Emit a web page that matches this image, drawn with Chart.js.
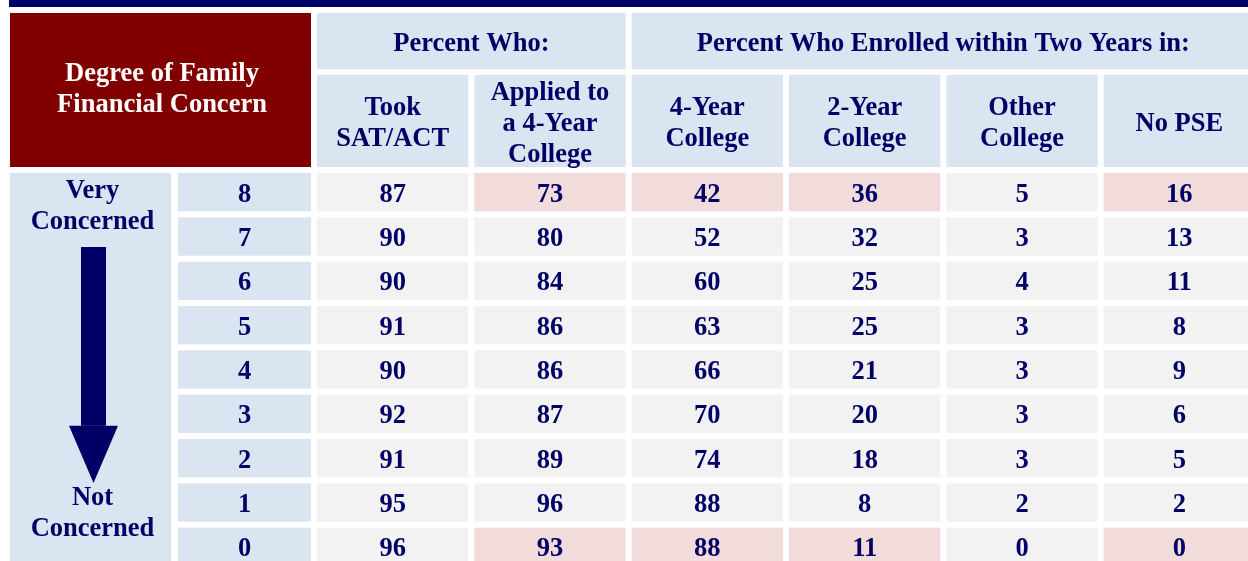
<!DOCTYPE html>
<html>
<head>
<meta charset="utf-8">
<script src="https://cdn.jsdelivr.net/npm/chart.js@4.4.1/dist/chart.umd.min.js"></script>
<style>
  html, body { margin: 0; padding: 0; background: #ffffff; overflow: hidden; width: 1248px; height: 561px; }
  canvas { display: block; }
</style>
</head>
<body>
<canvas id="c" width="1258" height="569"></canvas>
<script>
// ---- data ----
const columns = ['Took SAT/ACT', 'Applied to a 4-Year College', '4-Year College', '2-Year College', 'Other College', 'No PSE'];
const columnHeaderLines = [['Took', 'SAT/ACT'], ['Applied to', 'a 4-Year', 'College'], ['4-Year', 'College'], ['2-Year', 'College'], ['Other', 'College'], ['No PSE']];
const groupHeaders = ['Percent Who:', 'Percent Who Enrolled within Two Years in:'];
const groupSpans = [[0, 1], [2, 5]];
const cornerTitle = ['Degree of Family', 'Financial Concern'];
const concernLevels = ['8', '7', '6', '5', '4', '3', '2', '1', '0'];
const concernTopLabel = ['Very', 'Concerned'];
const concernBottomLabel = ['Not', 'Concerned'];
const tookSatAct = [87, 90, 90, 91, 90, 92, 91, 95, 96];
const appliedFourYear = [73, 80, 84, 86, 86, 87, 89, 96, 93];
const enrolledFourYear = [42, 52, 60, 63, 66, 70, 74, 88, 88];
const enrolledTwoYear = [36, 32, 25, 25, 21, 20, 18, 8, 11];
const enrolledOther = [5, 3, 4, 3, 3, 3, 3, 2, 0];
const noPse = [16, 13, 11, 8, 9, 6, 5, 2, 0];
const highlightedColumns = [false, true, true, true, false, true];
const highlightedRows = ['8', '0'];

const series = [tookSatAct, appliedFourYear, enrolledFourYear, enrolledTwoYear, enrolledOther, noPse];

// ---- styles ----
const NAVY = '#000066';
const DARKRED = '#800000';
const BLUE = '#dbe5f1';
const GRAY = '#f2f2f2';
const PINK = '#f2dcdb';
const FONT = 'bold 26.5px "Liberation Serif", "Times New Roman", serif';
const GAP = 3;
const LINE = 31;
const BASE = 9.5;

const tablePlugin = {
  id: 'tablePlugin',
  beforeDraw(chart) {
    const ctx = chart.ctx;
    const xs = chart.scales.x, ys = chart.scales.y;
    const area = chart.chartArea;
    const colW = xs.getPixelForValue(1) - xs.getPixelForValue(0);
    const rowH = ys.getPixelForValue(1) - ys.getPixelForValue(0);
    const halfW = colW / 2 - GAP;
    const halfH = rowH / 2 - GAP;

    ctx.save();
    ctx.fillStyle = '#ffffff';
    ctx.fillRect(0, 0, chart.width, chart.height);

    function rect(x0, y0, x1, y1, c) { ctx.fillStyle = c; ctx.fillRect(x0, y0, x1 - x0, y1 - y0); }
    function lines(arr, cx, cy, color) {
      ctx.fillStyle = color;
      ctx.font = FONT;
      ctx.textAlign = 'center';
      ctx.textBaseline = 'alphabetic';
      const n = arr.length;
      arr.forEach((t, k) => {
        ctx.fillText(t, cx, cy + BASE + (k - (n - 1) / 2) * LINE);
      });
    }

    // header geometry
    const subBottom = area.top - GAP;
    const subTop = subBottom - 92;
    const grpBottom = subTop - 2 * GAP;
    const grpTop = 13;
    const numRight = area.left - GAP;
    const numLeft = numRight - 133;
    const labRight = numLeft - 7;
    const labLeft = 10;

    // top navy rule
    rect(9, 0, chart.width, 7, NAVY);

    // corner cell
    rect(labLeft, grpTop, numRight, subBottom, DARKRED);
    lines(cornerTitle, (labLeft + numRight) / 2 + 1.5, (grpTop + subBottom) / 2 - 3, '#ffffff');

    // group headers
    groupHeaders.forEach((g, i) => {
      const [a, b] = groupSpans[i];
      const x0 = xs.getPixelForValue(a) - halfW;
      const x1 = xs.getPixelForValue(b) + halfW;
      rect(x0, grpTop, x1, grpBottom, BLUE);
      lines([g], (x0 + x1) / 2, (grpTop + grpBottom) / 2, NAVY);
    });

    // column headers
    columns.forEach((c, j) => {
      const cx = xs.getPixelForValue(j);
      rect(cx - halfW, subTop, cx + halfW, subBottom, BLUE);
      lines(columnHeaderLines[j], cx, (subTop + subBottom) / 2, NAVY);
    });

    // left label column
    const firstTop = ys.getPixelForValue(0) - halfH;
    rect(labLeft, firstTop, labRight, area.bottom, BLUE);
    const labCx = (labLeft + labRight) / 2 + 2;
    lines(concernTopLabel, labCx, ys.getPixelForValue(0) + 6 - BASE + LINE / 2, NAVY);
    lines(concernBottomLabel, labCx, ys.getPixelForValue(7) + 2.5 - BASE + LINE / 2, NAVY);

    // arrow
    const ax = labCx + 1;
    const shaftTop = ys.getPixelForValue(1) + 10.5;
    const headTop = ys.getPixelForValue(5) + 12;
    const tip = ys.getPixelForValue(7) - 19.5;
    ctx.fillStyle = NAVY;
    ctx.fillRect(ax - 12.5, shaftTop, 25, headTop - shaftTop);
    ctx.beginPath();
    ctx.moveTo(ax - 24.5, headTop);
    ctx.lineTo(ax + 24.5, headTop);
    ctx.lineTo(ax, tip);
    ctx.closePath();
    ctx.fill();

    // rows
    concernLevels.forEach((lvl, i) => {
      const cy = ys.getPixelForValue(i);
      rect(numLeft, cy - halfH, numRight, cy + halfH, BLUE);
      lines([lvl], (numLeft + numRight) / 2, cy, NAVY);
      series.forEach((s, j) => {
        const cx = xs.getPixelForValue(j);
        const hl = highlightedColumns[j] && highlightedRows.includes(lvl);
        rect(cx - halfW, cy - halfH, cx + halfW, cy + halfH, hl ? PINK : GRAY);
        lines([String(s[i])], cx, cy, NAVY);
      });
    });
    ctx.restore();
  }
};

new Chart(document.getElementById('c'), {
  type: 'line',
  data: { labels: columns, datasets: [] },
  options: {
    responsive: false,
    animation: false,
    devicePixelRatio: 1,
    layout: { padding: { top: 170, left: 314, right: 0, bottom: 0 } },
    plugins: { legend: { display: false }, tooltip: { enabled: false } },
    scales: {
      x: { type: 'category', labels: columns, offset: true, display: false },
      y: { type: 'category', labels: concernLevels, offset: true, display: false }
    }
  },
  plugins: [tablePlugin]
});
</script>
</body>
</html>
